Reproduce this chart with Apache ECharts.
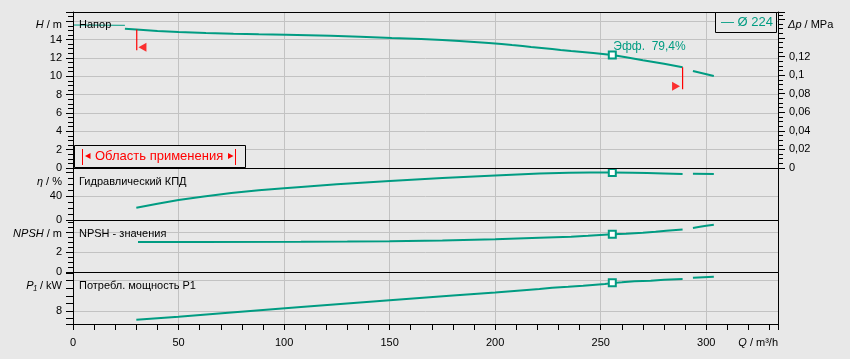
<!DOCTYPE html>
<html>
<head>
<meta charset="utf-8">
<script src="https://cdn.jsdelivr.net/npm/echarts@6/dist/echarts.min.js"></script>
<style>
html,body{margin:0;padding:0;background:#e8e8e8;}
#c{width:850px;height:359px;}
</style>
</head>
<body>
<div id="c"></div>
<script>
// ---------- data ----------
const qMax = 334;
// Head H [m]
const hThinQ = [0, 24.6];
const hThinV = [15.58, 15.55];
const hQ = [24.6, 30, 40, 50, 63, 76, 88, 101, 122, 136, 151, 165, 175, 183, 190, 197, 203, 208, 213, 217, 222, 227, 231, 236, 246.5, 255.5, 262, 270, 280, 288.8];
const hV = [15.18, 15.1, 14.94, 14.83, 14.71, 14.63, 14.57, 14.53, 14.42, 14.31, 14.17, 14.06, 13.95, 13.84, 13.73, 13.62, 13.51, 13.4, 13.3, 13.19, 13.08, 12.97, 12.86, 12.75, 12.54, 12.31, 12.06, 11.74, 11.35, 10.97];
const hEndQ = [293.7, 303.6];
const hEndV = [10.57, 10.03];
// Efficiency eta [%]
const etaQ = [30, 40, 50, 62, 75, 88, 100, 108, 125, 150, 175, 200, 221, 235, 245, 255.5, 265, 272, 280, 288.8];
const etaV = [20.6, 27.2, 33.5, 39.5, 45, 49.8, 53.2, 55.3, 59.8, 65.3, 70.2, 74.3, 78, 79.2, 79.4, 79.4, 79.1, 78.5, 77.8, 77.0];
const etaEndQ = [293.7, 303.6];
const etaEndV = [77.4, 76.8];
// NPSH [m]
const npshQ = [30.8, 60, 108, 130, 150, 175, 200, 221, 236, 244, 255.5, 262, 270, 276, 281, 288.8];
const npshV = [3.0, 3.0, 3.02, 3.04, 3.08, 3.15, 3.27, 3.43, 3.53, 3.62, 3.77, 3.83, 3.92, 4.02, 4.12, 4.24];
const npshEndQ = [293.7, 297, 300, 303.6];
const npshEndV = [4.4, 4.52, 4.62, 4.72];
// Power P1 [kW]
const p1Q = [30, 50, 75, 108, 150, 180, 200, 221, 227, 234.6, 241.7, 247.6, 252, 255.5, 260, 266, 273.7, 280, 288.8];
const p1V = [6.85, 7.25, 7.8, 8.53, 9.43, 10.05, 10.45, 10.9, 11.07, 11.2, 11.34, 11.47, 11.56, 11.68, 11.78, 11.92, 12.0, 12.13, 12.22];
const p1EndQ = [293.7, 303.6];
const p1EndV = [12.39, 12.52];
// Best efficiency point
const bestQ = 255.5;
const bestH = 12.31, bestEta = 79.4, bestNpsh = 3.77, bestP1 = 11.72;
// Operating range markers
const rangeQ = [30.2, 288.8];
const rangeTopH = [15.1, 10.97];
const rangeBottomH = [12.83, 8.58];
const rangeArrowQ = [32.9, 285.7];
const rangeArrowH = [13.16, 8.91];
// Legend / labels
const legendText = '— Ø 224';
const rangeText = 'Область применения';
const panelTitles = ['Напор', 'Гидравлический КПД', 'NPSH - значения', 'Потребл. мощность P1'];

// ---------- chart ----------
const TEAL = '#009c82', RED = '#ff0000', GRIDC = '#c2c2c2';
const FONT = "'Liberation Sans', Arial, Helvetica, sans-serif";
const pairs = (q, v) => q.map((x, i) => [x, v[i]]);
const chart = echarts.init(document.getElementById('c'), null, {renderer: 'canvas', width: 850, height: 359});

const L = 73, W = 705;
const gridDefs = [[12, 156], [168, 52], [220, 52], [272, 52]];
const grids = gridDefs.map(g => ({left: L, width: W, top: g[0], height: g[1], show: false}));

const xAxes = [0, 1, 2, 3].map(i => ({
  type: 'value', gridIndex: i, min: 0, max: qMax, interval: 50,
  axisLine: {show: i === 3, lineStyle: {color: '#000', width: 1}},
  axisTick: {show: i === 3, length: 6, lineStyle: {color: '#000'}},
  minorTick: {show: i === 3, splitNumber: 5, length: 6, lineStyle: {color: '#000'}},
  axisLabel: {show: i === 3, margin: 13, color: '#000', fontSize: 11, fontFamily: FONT,
    showMaxLabel: false, formatter: v => (v % 50 === 0 ? String(v) : '')},
  splitLine: {show: true, showMinLine: false, showMaxLine: false, lineStyle: {color: GRIDC, width: 1}}
}));

function yAx(o) {
  return Object.assign({
    type: 'value',
    axisLine: {show: true, lineStyle: {color: '#000', width: 1}},
    axisTick: {show: true, length: 7, lineStyle: {color: '#000'}},
    minorTick: {show: true, splitNumber: 4, length: 5, lineStyle: {color: '#000'}},
    splitLine: {show: false},
  }, o);
}
const lbl = (fmt) => ({margin: 11, color: '#000', fontSize: 11, fontFamily: FONT, formatter: fmt});
const yAxes = [
  yAx({gridIndex: 0, min: 0, max: 17, interval: 2,
    axisLabel: lbl(v => (v <= 14 ? String(v) : '')),
    splitLine: {show: true, showMinLine: false, showMaxLine: false, lineStyle: {color: GRIDC, width: 1}}}),
  yAx({gridIndex: 0, position: 'right', min: 0, max: 0.168, interval: 0.02,
    axisLabel: lbl(v => (v <= 0.1201 ? String(+v.toFixed(2)).replace('.', ',') : ''))}),
  yAx({gridIndex: 1, min: 0, max: 87, interval: 40,
    axisLabel: lbl(v => (v === 0 || v === 40 ? String(v) : ''))}),
  yAx({gridIndex: 2, min: 0, max: 5.2, interval: 2,
    axisLabel: lbl(v => (v === 0 || v === 2 ? String(v) : '')),
    splitLine: {show: true, showMinLine: false, showMaxLine: false, lineStyle: {color: GRIDC, width: 1}}}),
  yAx({gridIndex: 3, min: 6.28, max: 13.15, minInterval: 1, maxInterval: 1,
    minorTick: {show: false},
    axisLabel: lbl(v => (v === 8 ? '8' : ''))})
];

function curve(q, v, xi, yi, width) {
  return {type: 'line', xAxisIndex: xi, yAxisIndex: yi, data: pairs(q, v), symbol: 'none', showSymbol: false,
    lineStyle: {color: TEAL, width: width || 2}, silent: true, z: 3, animation: false};
}
function marker(x, y, xi, yi, label) {
  const s = {type: 'scatter', xAxisIndex: xi, yAxisIndex: yi, data: [[x, y]], symbol: 'rect', symbolSize: 7,
    itemStyle: {color: '#ffffff', borderColor: TEAL, borderWidth: 2, opacity: 1}, silent: true, z: 6, animation: false};
  if (label) s.label = {show: true, position: [5.5, -10], formatter: label, color: TEAL, fontSize: 12, fontFamily: FONT};
  return s;
}
function gridLines(vals, xi, yi) {
  return {type: 'line', xAxisIndex: xi, yAxisIndex: yi, data: [], silent: true, z: 1, animation: false,
    markLine: {silent: true, symbol: 'none', z: 1, label: {show: false}, animation: false,
      lineStyle: {color: GRIDC, width: 1, type: 'solid'}, data: vals.map(v => ({yAxis: v}))}};
}
const effLabel = 'Эфф.  ' + String(bestEta).replace('.', ',') + '%';

const series = [
  gridLines([40], 1, 2),
  gridLines([8, 12], 3, 4),
  curve(hThinQ, hThinV, 0, 0, 1),
  curve(hQ, hV, 0, 0),
  curve(hEndQ, hEndV, 0, 0),
  curve(etaQ, etaV, 1, 2),
  curve(etaEndQ, etaEndV, 1, 2),
  curve(npshQ, npshV, 2, 3),
  curve(npshEndQ, npshEndV, 2, 3),
  curve(p1Q, p1V, 3, 4),
  curve(p1EndQ, p1EndV, 3, 4),
  marker(bestQ, bestH, 0, 0, effLabel),
  marker(bestQ, bestEta, 1, 2),
  marker(bestQ, bestNpsh, 2, 3),
  marker(bestQ, bestP1, 3, 4)
];
// operating-range markers
rangeQ.forEach((q, i) => {
  series.push({type: 'line', xAxisIndex: 0, yAxisIndex: 0, data: [[q, rangeTopH[i]], [q, rangeBottomH[i]]],
    symbol: 'none', lineStyle: {color: RED, width: 1.2}, silent: true, z: 4, animation: false});
  series.push({type: 'scatter', xAxisIndex: 0, yAxisIndex: 0, data: [[rangeArrowQ[i], rangeArrowH[i]]],
    symbol: 'triangle', symbolRotate: i === 0 ? 90 : -90, symbolSize: [9, 8],
    itemStyle: {color: RED}, silent: true, z: 4, animation: false});
});

const txt = (text, x, y, align, extra) => ({type: 'text', silent: true, z: 10,
  style: Object.assign({text: text, x: x, y: y, align: align || 'left', verticalAlign: 'middle',
    fill: '#000', fontSize: 11, fontFamily: FONT}, extra || {})});
const it = {i: {fontStyle: 'italic', fontSize: 11, fontFamily: FONT, fill: '#000'}};

// crisp panel frames
const frames = gridDefs.map(g => ({type: 'rect', silent: true, z: 8,
  shape: {x: L + 0.5, y: g[0] + 0.5, width: W, height: g[1]},
  style: {fill: 'none', stroke: '#000', lineWidth: 1}}));

const graphic = frames.concat([
  txt(panelTitles[0], 79, 24.5),
  txt(panelTitles[1], 79, 182),
  txt(panelTitles[2], 79, 233.5),
  txt(panelTitles[3], 79, 286),
  txt('{i|H} / m', 62, 24.5, 'right', {rich: it}),
  txt('{i|η} / %', 62, 182, 'right', {rich: it}),
  txt('{i|NPSH} / m', 62, 233.5, 'right', {rich: it}),
  txt('{i|P₁} / kW', 62, 286, 'right', {rich: it}),
  txt('{i|Δp} / MPa', 788, 24.5, 'left', {rich: it}),
  txt('{i|Q} / m³/h', 778, 342.5, 'right', {rich: it}),
  // legend box
  {type: 'rect', silent: true, z: 9, shape: {x: 715.5, y: 12.5, width: 61, height: 20},
    style: {fill: '#e8e8e8', stroke: '#000', lineWidth: 1}},
  txt(legendText, 721, 22.5, 'left', {fill: TEAL, fontSize: 13}),
  // operating range box
  {type: 'rect', silent: true, z: 9, shape: {x: 74.5, y: 145.5, width: 171, height: 22},
    style: {fill: '#e8e8e8', stroke: '#000', lineWidth: 1}},
  {type: 'line', silent: true, z: 10, shape: {x1: 82.5, y1: 149, x2: 82.5, y2: 165}, style: {stroke: RED, lineWidth: 1}},
  {type: 'polygon', silent: true, z: 10, shape: {points: [[85, 156], [90.5, 153], [90.5, 159]]}, style: {fill: RED}},
  txt(rangeText, 95, 156.5, 'left', {fill: RED, fontSize: 13}),
  {type: 'polygon', silent: true, z: 10, shape: {points: [[233.5, 156], [228, 153], [228, 159]]}, style: {fill: RED}},
  {type: 'line', silent: true, z: 10, shape: {x1: 235.5, y1: 149, x2: 235.5, y2: 165}, style: {stroke: RED, lineWidth: 1}}
]);

chart.setOption({
  backgroundColor: '#e8e8e8',
  animation: false,
  textStyle: {fontFamily: FONT},
  grid: grids,
  xAxis: xAxes,
  yAxis: yAxes,
  series: series,
  graphic: graphic
});
</script>
</body>
</html>
